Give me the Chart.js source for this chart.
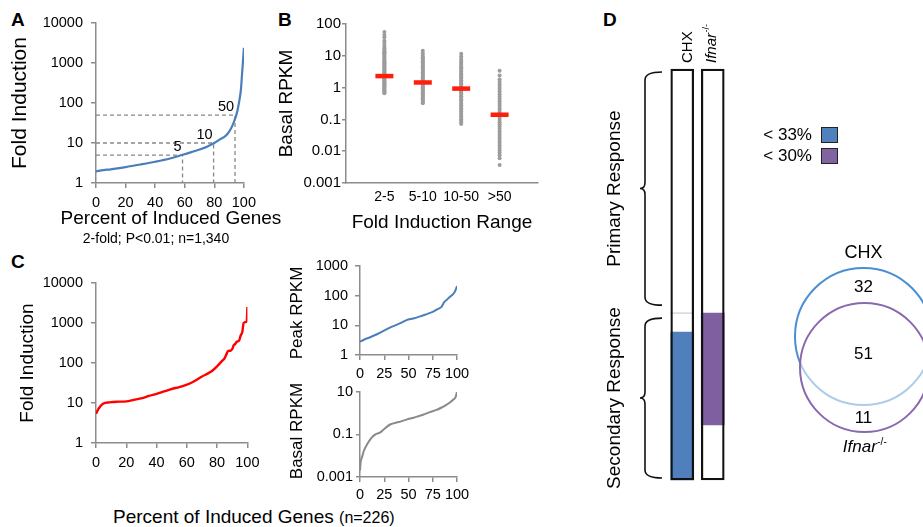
<!DOCTYPE html>
<html>
<head>
<meta charset="utf-8">
<script src="https://cdn.jsdelivr.net/npm/chart.js@4.4.1/dist/chart.umd.min.js"></script>
<style>
  html, body { margin: 0; padding: 0; background: #fff; }
  body { width: 923px; height: 527px; position: relative; overflow: hidden;
         font-family: 'Liberation Sans', Arial, sans-serif; color: #000; }
  .abs { position: absolute; }
  .abs canvas { display: block; }
  .letter { position: absolute; font-weight: bold; font-size: 19px; line-height: 20px; }
  .vtitle { position: absolute; width: 130px; height: 20px; line-height: 20px; text-align: center;
            white-space: nowrap; transform: rotate(-90deg); }
</style>
</head>
<body>
<div class="letter" style="left:11px;top:10px">A</div>
<div class="letter" style="left:278px;top:10px">B</div>
<div class="letter" style="left:11px;top:252px">C</div>
<div class="letter" style="left:603px;top:10px">D</div>

<div class="abs" style="left:0;top:0"><canvas id="chartA" width="262" height="228"></canvas></div>
<div class="abs" style="left:51px;top:207px;width:240px;text-align:center;font-size:19px;line-height:22px">Percent of Induced Genes</div>
<div class="abs" style="left:56px;top:230px;width:200px;text-align:center;font-size:14px;line-height:16px">2-fold; P&lt;0.01; n=1,340</div>

<div class="abs" style="left:270px;top:0"><canvas id="chartB" width="280" height="232"></canvas></div>

<div class="abs" style="left:0;top:250px"><canvas id="chartC" width="266" height="223"></canvas></div>
<div class="abs" style="left:285px;top:250px"><canvas id="chartPeak" width="190" height="131"></canvas></div>
<div class="abs" style="left:285px;top:380px"><canvas id="chartBasal" width="190" height="123"></canvas></div>
<div class="vtitle" style="left:232px;top:303px;font-size:17px">Peak RPKM</div>
<div class="vtitle" style="left:232px;top:421px;font-size:17px">Basal RPKM</div>
<div class="abs" style="left:113px;top:506px;font-size:19px;line-height:22px;white-space:nowrap">Percent of Induced Genes <span style="font-size:16px">(n=226)</span></div>

<div class="abs" style="left:600px;top:0"><canvas id="chartD" width="140" height="500"></canvas></div>
<div id="legendD"></div>
<div class="abs" style="left:780px;top:230px"><canvas id="chartVenn" width="160" height="230"></canvas></div>

<script>
// ---- data ----
// A: sorted fold induction of all induced genes
const aPct  = [0, 5, 10, 20, 30, 40, 50, 58, 65, 70, 75, 80, 84, 87, 89, 91, 93, 95, 96, 97, 98, 98.7, 99.3, 100];
const aFold = [1.95, 2.1, 2.2, 2.5, 2.9, 3.4, 4.1, 5, 6, 6.9, 8.1, 10, 12.5, 14.5, 17, 22, 32, 52, 75, 120, 220, 500, 1000, 2400];
const aGuideFold = [5, 10, 50];
const aGuidePct  = [58.5, 79.5, 94];
const foldTicks = [1, 10, 100, 1000, 10000];

// B: basal RPKM per fold-induction range
const bCategories = ['2-5', '5-10', '10-50', '>50'];
const b2to5 = [56, 45, 38, 30, 26, 22, 19, 17, 15.5, 14, 13, 12, 11, 10, 9.3, 8.6, 8, 7.4, 6.8, 6.3, 5.8, 5.4, 5, 4.6, 4.3, 4, 3.7, 3.4, 3.2, 3, 2.8, 2.6, 2.4, 2.2, 2.05, 1.9, 1.78, 1.66, 1.55, 1.45, 1.36, 1.27, 1.19, 1.11, 1.04, 0.97, 0.91, 0.85, 0.8, 0.75, 0.71, 0.67];
const b5to10 = [14.5, 12, 10, 9, 8.2, 7.5, 6.8, 6.2, 5.6, 5.1, 4.7, 4.3, 3.9, 3.6, 3.3, 3, 2.75, 2.5, 2.3, 2.1, 1.92, 1.76, 1.61, 1.47, 1.35, 1.23, 1.13, 1.03, 0.94, 0.86, 0.79, 0.72, 0.66, 0.6, 0.55, 0.5, 0.46, 0.42, 0.38, 0.35, 0.32];
const b10to50 = [11.5, 9.5, 8, 7, 6.2, 5.5, 4.9, 4.4, 4, 3.6, 3.2, 2.9, 2.6, 2.35, 2.1, 1.9, 1.7, 1.53, 1.38, 1.24, 1.11, 1, 0.9, 0.81, 0.73, 0.66, 0.59, 0.53, 0.48, 0.43, 0.39, 0.35, 0.31, 0.28, 0.25, 0.22, 0.2, 0.18, 0.16, 0.14, 0.125, 0.11, 0.1, 0.09, 0.08, 0.072];
const bOver50 = [3.4, 2.4, 1.8, 1.5, 1.25, 1.05, 0.9, 0.75, 0.62, 0.52, 0.44, 0.37, 0.31, 0.27, 0.23, 0.2, 0.17, 0.15, 0.13, 0.11, 0.095, 0.082, 0.07, 0.06, 0.05, 0.042, 0.035, 0.03, 0.025, 0.021, 0.018, 0.015, 0.0125, 0.0105, 0.009, 0.0075, 0.006, 0.0037];
const bMedians = [2.3, 1.45, 0.93, 0.14];
const rpkmTicks = [0.001, 0.01, 0.1, 1, 10, 100];

// C: secondary response genes
const cPct  = [0, 2, 4.6, 9, 15, 20, 25, 30.6, 35, 40, 45, 50, 55, 60, 63, 66, 70, 74, 77, 80, 83, 85, 86, 87, 89, 90, 91, 92, 93, 94.6, 95.5, 96.7, 97.5, 98.5, 99.6, 100];
const cFold = [5.4, 7.5, 9.6, 10.4, 10.8, 11, 12, 13.3, 15, 17, 19.5, 22.4, 25, 28.7, 32, 37, 46, 55, 65, 83, 110, 133, 160, 195, 205, 224, 280, 300, 340, 370, 480, 617, 1000, 1050, 1100, 2500];
const peakPct  = [0, 5, 10, 18, 25.7, 33, 41, 48, 55, 62, 68, 75, 80, 84, 87, 90, 92.5, 95, 97.6, 99, 100];
const peakRpkm = [2.8, 3.4, 3.9, 5.1, 6.9, 9, 11.6, 15, 17, 20, 23.5, 28.6, 35, 42, 62, 75, 91, 105, 134, 170, 210];
const peakTicks = [1, 10, 100, 1000];
const basalPct  = [0, 0.5, 1, 2, 4, 7.5, 12, 16, 20.5, 25, 31, 40, 48, 56, 65, 72, 79, 85, 89, 93, 96, 98.5, 100];
const basalRpkm = [0.002, 0.004, 0.006, 0.0083, 0.017, 0.035, 0.07, 0.1, 0.12, 0.18, 0.29, 0.38, 0.49, 0.62, 0.83, 1.1, 1.4, 1.9, 2.4, 3.2, 4.2, 5.5, 10];
const basalTicks = [0.001, 0.1, 10];

// D: position along the ranked gene list (0 = top, 100 = bottom)
const dGroups = ['CHX', 'Ifnar'];
const dPrimaryEnd = 59.4;
const dChxStart = 64;
const dIfnarEnd = 86.6;
const legendLabels = ['< 33%', '< 30%'];
const vennCounts = [32, 51, 11];

// ---- helpers ----
const GRAY = '#8c8c8c';
const BLUE_LINE = '#4a7ebb';
const FONT = "'Liberation Sans', Arial, sans-serif";
Chart.defaults.font.family = FONT;
Chart.defaults.color = '#000';

const xy = (xs, ys) => xs.map((x, i) => ({ x, y: ys[i] }));

function logY(o) {
  return {
    type: 'logarithmic', min: o.ticks[0], max: o.ticks[o.ticks.length - 1],
    afterBuildTicks: s => { s.ticks = o.ticks.map(v => ({ value: v })); },
    afterFit: s => { s.width = o.width; },
    border: { color: GRAY, width: 1.5 },
    grid: { drawOnChartArea: false, color: GRAY, lineWidth: 1.5, tickLength: o.tl },
    ticks: { color: '#000', font: { size: o.size }, padding: o.pad, callback: v => String(v) },
    title: o.title
      ? { display: true, text: o.title, color: '#000',
          font: { size: o.titleSize, lineHeight: 1 }, padding: { top: o.titlePad, bottom: 0 } }
      : { display: false }
  };
}

function linX(o) {
  return {
    type: 'linear', min: o.min, max: o.max,
    afterBuildTicks: o.tickValues ? s => { s.ticks = o.tickValues.map(v => ({ value: v })); } : undefined,
    afterFit: s => { s.height = o.height; },
    border: { color: GRAY, width: 1.5 },
    grid: { drawOnChartArea: false, color: GRAY, lineWidth: 1.5, tickLength: o.tl || 0, drawTicks: !!o.tl },
    ticks: { color: '#000', font: { size: o.size }, padding: o.pad, stepSize: o.step,
             maxRotation: 0, minRotation: 0, autoSkip: false,
             callback: o.labels ? v => o.labels[v - 1] : v => String(v) },
    title: o.title
      ? { display: true, text: o.title, color: '#000', font: { size: o.titleSize, lineHeight: 1 }, padding: { top: 0, bottom: 0 } }
      : { display: false }
  };
}

function baseOptions(padding, scales) {
  return {
    responsive: false, animation: false, events: [],
    layout: { padding, autoPadding: false },
    plugins: { legend: { display: false }, tooltip: { enabled: false } },
    scales
  };
}

function curve(data, color, width) {
  return { data, showLine: true, borderColor: color, borderWidth: width, pointRadius: 0,
           cubicInterpolationMode: 'monotone' };
}

// ---- A ----
const guideLabels = {
  id: 'guideLabels',
  afterDatasetsDraw(chart) {
    const { ctx, scales: { x, y } } = chart;
    ctx.save();
    ctx.font = '14.5px ' + FONT;
    ctx.fillStyle = '#000';
    ctx.textAlign = 'right';
    ctx.textBaseline = 'bottom';
    aGuideFold.forEach((f, i) => {
      ctx.fillText(String(f), x.getPixelForValue(aGuidePct[i]) - 1, y.getPixelForValue(f) - 1);
    });
    ctx.restore();
  }
};

new Chart('chartA', {
  type: 'scatter',
  data: {
    datasets: [curve(xy(aPct, aFold), BLUE_LINE, 2.2)].concat(aGuideFold.map((f, i) => ({
      data: [{ x: 0, y: f }, { x: aGuidePct[i], y: f }, { x: aGuidePct[i], y: 1 }],
      showLine: true, borderColor: '#888', borderWidth: 1.3, borderDash: [4, 3], pointRadius: 0
    })))
  },
  options: baseOptions({ left: 0, right: 16, top: 23, bottom: 0 }, {
    x: linX({ min: 0, max: 100, step: 20, height: 45, tl: 5, pad: 6, size: 14.5 }),
    y: logY({ ticks: foldTicks, width: 96, tl: 5, pad: 8, size: 14.5,
              title: 'Fold Induction', titleSize: 21, titlePad: 9.5 })
  }),
  plugins: [guideLabels]
});

// ---- B ----
const bColumns = [b2to5, b5to10, b10to50, bOver50];
new Chart('chartB', {
  type: 'scatter',
  data: {
    datasets: [
      { data: bMedians.map((m, i) => ({ x: i + 1, y: m })), pointStyle: 'line', pointRadius: 9,
        borderColor: '#ff1e0a', borderWidth: 4.5 },
      { data: bColumns.flatMap((col, i) => col.map(v => ({ x: i + 1, y: v }))),
        pointRadius: 2, backgroundColor: '#9c9c9c', borderWidth: 0 }
    ]
  },
  options: baseOptions({ left: 0, right: 12, top: 24, bottom: 0 }, {
    x: linX({ min: 0, max: 5, tickValues: [1, 2, 3, 4], labels: bCategories, height: 49, pad: 6, size: 14,
              title: 'Fold Induction Range', titleSize: 19 }),
    y: logY({ ticks: rpkmTicks, width: 76, tl: 4, pad: 1, size: 15,
              title: 'Basal RPKM', titleSize: 19, titlePad: 7.5 })
  })
});

// ---- C ----
new Chart('chartC', {
  type: 'scatter',
  data: { datasets: [curve(xy(cPct, cFold), '#ff0000', 2.4)] },
  options: baseOptions({ left: 0, right: 16, top: 33, bottom: 0 }, {
    x: linX({ min: 0, max: 100, step: 20, height: 30, tl: 5, pad: 6.5, size: 14.5 }),
    y: logY({ ticks: foldTicks, width: 96, tl: 5, pad: 8, size: 14.5,
              title: 'Fold Induction', titleSize: 19, titlePad: 18.5 })
  })
});

new Chart('chartPeak', {
  type: 'scatter',
  data: { datasets: [curve(xy(peakPct, peakRpkm), BLUE_LINE, 2)] },
  options: baseOptions({ left: 0, right: 18, top: 16, bottom: 0 }, {
    x: linX({ min: 0, max: 100, step: 25, height: 26, tl: 5, pad: 5, size: 14.5 }),
    y: logY({ ticks: peakTicks, width: 75, tl: 5, pad: 7, size: 14.5 })
  })
});

new Chart('chartBasal', {
  type: 'scatter',
  data: { datasets: [curve(xy(basalPct, basalRpkm), '#8a8a8a', 2)] },
  options: baseOptions({ left: 0, right: 18, top: 10, bottom: 0 }, {
    x: linX({ min: 0, max: 100, step: 25, height: 26, tl: 5, pad: 4, size: 14.5 }),
    y: logY({ ticks: basalTicks, width: 75, tl: 4, pad: 3, size: 14.5 })
  })
});

// ---- D ----
function brace(ctx, xl, y0, y1, arm, tip) {
  const m = (y0 + y1) / 2;
  ctx.beginPath();
  ctx.moveTo(xl + arm, y0);
  ctx.quadraticCurveTo(xl, y0, xl, y0 + 8);
  ctx.lineTo(xl, m - 6);
  ctx.quadraticCurveTo(xl, m, xl - tip, m);
  ctx.quadraticCurveTo(xl, m, xl, m + 6);
  ctx.lineTo(xl, y1 - 8);
  ctx.quadraticCurveTo(xl, y1, xl + arm, y1);
  ctx.stroke();
}

function rotated(ctx, x, y, draw) {
  ctx.save();
  ctx.translate(x, y);
  ctx.rotate(-Math.PI / 2);
  draw();
  ctx.restore();
}

function ifnarText(ctx, x, y, size, align) {
  ctx.save();
  ctx.textBaseline = 'alphabetic';
  ctx.font = 'italic ' + size + 'px ' + FONT;
  const w = ctx.measureText('Ifnar').width;
  ctx.font = Math.round(size * 0.6) + 'px ' + FONT;
  const ws = ctx.measureText('-/-').width;
  const start = align === 'center' ? x - (w + ws) / 2 : x;
  ctx.textAlign = 'left';
  ctx.font = 'italic ' + size + 'px ' + FONT;
  ctx.fillText('Ifnar', start, y);
  ctx.font = Math.round(size * 0.6) + 'px ' + FONT;
  ctx.fillText('-/-', start + w + 0.5, y - size * 0.42);
  ctx.restore();
}

const dDecor = {
  id: 'dDecor',
  afterDatasetsDraw(chart) {
    const { ctx, chartArea, scales: { x, y } } = chart;
    const top = y.getPixelForValue(0), split = y.getPixelForValue(dPrimaryEnd), bottom = y.getPixelForValue(100);
    const bl = chartArea.left - 22;
    ctx.save();
    ctx.strokeStyle = '#111';
    ctx.lineWidth = 1.6;
    const ranges = [[top + 3, split - 8], [split + 5, bottom - 2]];
    ranges.forEach(r => brace(ctx, bl, r[0], r[1], 17, 5));
    ctx.fillStyle = '#000';
    ctx.font = '19px ' + FONT;
    ctx.textAlign = 'center';
    ctx.textBaseline = 'middle';
    ['Primary Response', 'Secondary Response'].forEach((t, i) => {
      rotated(ctx, chartArea.left - 52, (ranges[i][0] + ranges[i][1]) / 2, () => ctx.fillText(t, 0, 0));
    });
    // group labels above the bars
    rotated(ctx, x.getPixelForValue(0) + 5, top - 6, () => {
      ctx.textAlign = 'left';
      ctx.textBaseline = 'alphabetic';
      ctx.font = '15px ' + FONT;
      ctx.fillText(dGroups[0], 0, 5);
    });
    rotated(ctx, x.getPixelForValue(1) - 2, top - 6, () => ifnarText(ctx, 0, 5, 15, 'left'));
    ctx.restore();
  }
};

const barCommon = { grouped: false, barThickness: 23, borderSkipped: false, clip: false };
new Chart('chartD', {
  type: 'bar',
  data: {
    labels: dGroups,
    datasets: [
      { ...barCommon, data: [[0, 100], [0, 100]], backgroundColor: 'rgba(0,0,0,0)', borderColor: '#111', borderWidth: 1.6 },
      { ...barCommon, data: [[dPrimaryEnd - 0.12, dPrimaryEnd + 0.12], null], backgroundColor: '#dadada', borderWidth: 0 },
      { ...barCommon, data: [[dChxStart, 100], null], backgroundColor: '#4f7fbd', borderWidth: 0 },
      { ...barCommon, data: [null, [dPrimaryEnd, dIfnarEnd]], backgroundColor: '#7f5f9f', borderWidth: 0 }
    ]
  },
  options: baseOptions({ left: 67, right: 12, top: 69, bottom: 20 }, {
    x: { display: false },
    y: { display: false, min: 0, max: 100, reverse: true }
  }),
  plugins: [dDecor]
});

// legend for D
const legendColors = ['#4f81bd', '#8064a2'];
document.getElementById('legendD').innerHTML = legendLabels.map((t, i) =>
  `<div class="abs" style="left:732px;top:${125 + i * 21}px;width:80px;text-align:right;font-size:17px;line-height:20px">${t.replace('<', '&lt;')}</div>` +
  `<div class="abs" style="left:821px;top:${127 + i * 21}px;width:15px;height:14px;border:1.5px solid #222;background:${legendColors[i]}"></div>`
).join('');

// ---- Venn ----
const vennText = {
  id: 'vennText',
  afterDatasetsDraw(chart) {
    const { ctx } = chart;
    const ifn = chart.getDatasetMeta(0).data[0];
    const chx = chart.getDatasetMeta(1).data[0];
    const rc = chx.options.radius, ri = ifn.options.radius;
    const chxTop = chx.y - rc, chxBot = chx.y + rc, ifnTop = ifn.y - ri, ifnBot = ifn.y + ri;
    ctx.save();
    ctx.fillStyle = '#000';
    ctx.textAlign = 'center';
    ctx.textBaseline = 'middle';
    ctx.font = '18px ' + FONT;
    ctx.fillText(dGroups[0], chx.x, chxTop - 15);
    ctx.font = '17px ' + FONT;
    const ys = [(chxTop + ifnTop) / 2 + 2, (ifnTop + chxBot) / 2, (chxBot + ifnBot) / 2];
    vennCounts.forEach((n, i) => ctx.fillText(String(n), chx.x, ys[i]));
    ifnarText(ctx, ifn.x, ifnBot + 20, 17, 'center');
    ctx.restore();
  }
};

new Chart('chartVenn', {
  type: 'bubble',
  data: {
    datasets: [
      { data: [{ x: 84.5, y: 137.5, r: 64.5 }], backgroundColor: 'rgba(255,255,255,0.55)',
        borderColor: '#8a68ae', borderWidth: 2, clip: false },
      { data: [{ x: 83.5, y: 106.5, r: 68.5 }], backgroundColor: 'rgba(0,0,0,0)',
        borderColor: '#4a8fd3', borderWidth: 2, clip: false }
    ]
  },
  options: baseOptions({ left: 0, right: 0, top: 0, bottom: 0 }, {
    x: { display: false, min: 0, max: 160 },
    y: { display: false, min: 0, max: 230, reverse: true }
  }),
  plugins: [vennText]
});
</script>
</body>
</html>
